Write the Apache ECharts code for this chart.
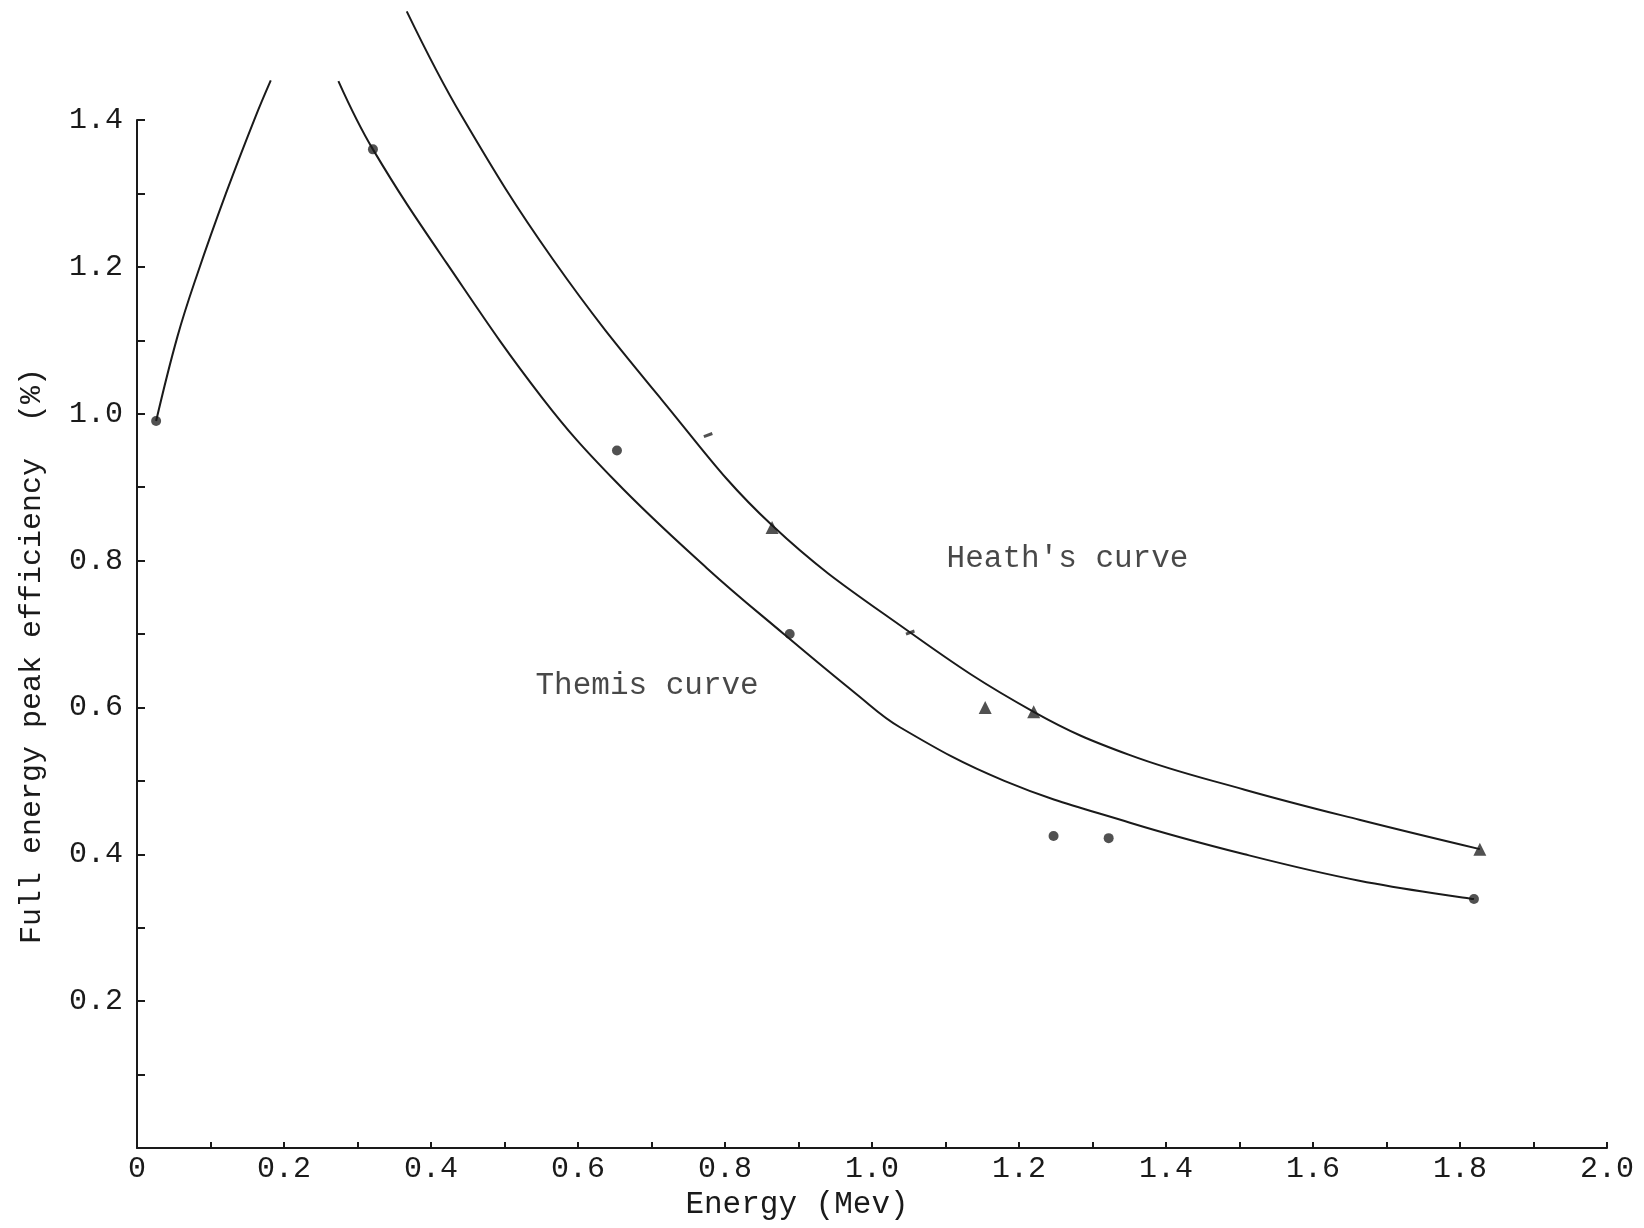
<!DOCTYPE html>
<html lang="en">
<head>
<meta charset="UTF-8">
<title>Full energy peak efficiency</title>
<style>
  html, body { margin: 0; padding: 0; background: #fff; }
  #chart { width: 1644px; height: 1228px; }
</style>
</head>
<body>
<div id="chart"></div>
<script src="https://cdn.jsdelivr.net/npm/echarts@6/dist/echarts.min.js"></script>
<script>
  // values: energy in MeV, efficiency in %
  var lowEnergy = [0.026, 0.055, 0.082, 0.121, 0.161, 0.182];
  var lowEff = [0.99, 1.105, 1.19, 1.30, 1.404, 1.454];

  var themisEnergy = [0.274, 0.321, 0.422, 0.551, 0.649, 0.775, 0.88, 0.979, 1.038, 1.18, 1.351, 1.507, 1.663, 1.819];
  var themisEff = [1.453, 1.36, 1.204, 1.022, 0.91, 0.79, 0.70, 0.618, 0.573, 0.50, 0.443, 0.40, 0.364, 0.339];

  var heathEnergy = [0.367, 0.442, 0.566, 0.714, 0.864, 1.052, 1.22, 1.351, 1.507, 1.663, 1.827];
  var heathEff = [1.548, 1.405, 1.21, 1.019, 0.848, 0.702, 0.594, 0.535, 0.488, 0.447, 0.407];

  // measured points
  var dotEnergy = [0.026, 0.321, 0.653, 0.888, 1.247, 1.322, 1.819];
  var dotEff = [0.99, 1.36, 0.950, 0.70, 0.425, 0.422, 0.339];

  var triEnergy = [0.442, 0.864, 1.154, 1.22, 1.827];
  var triEff = [1.408, 0.845, 0.600, 0.594, 0.407];

  var markEnergy = [0.777, 1.052];
  var markEff = [0.971, 0.702];

  var curveNames = ["Heath's curve", 'Themis curve'];
  var curveNameEnergy = [1.266, 0.694];
  var curveNameEff = [0.803, 0.629];

  function pairs(xs, ys) {
    var out = [];
    for (var i = 0; i < xs.length; i++) {
      out.push([xs[i], ys[i]]);
    }
    return out;
  }

  var font = '"Liberation Mono", "DejaVu Sans Mono", monospace';
  var ink = '#1a1a1a';

  var chart = echarts.init(document.getElementById('chart'));

  var option = {
    backgroundColor: '#fff',
    animation: false,
    grid: {
      left: 137,
      right: 37,
      top: 120,
      bottom: 80
    },
    xAxis: {
      type: 'value',
      min: 0,
      max: 2,
      interval: 0.1,
      name: 'Energy (Mev)',
      nameLocation: 'middle',
      nameGap: 40,
      nameTextStyle: {
        fontFamily: font,
        fontSize: 31,
        color: ink,
        padding: [0, 150, 0, 0]
      },
      axisLine: { lineStyle: { color: ink, width: 2 } },
      axisTick: { inside: true, length: 6, lineStyle: { color: ink, width: 2 } },
      splitLine: { show: false },
      axisLabel: {
        fontFamily: font,
        fontSize: 30,
        color: ink,
        margin: 6,
        formatter: function (v) {
          var t = Math.round(v * 10);
          if (t % 2 !== 0) return '';
          if (t === 0) return '0';
          return (t / 10).toFixed(1);
        }
      }
    },
    yAxis: {
      type: 'value',
      min: 0,
      max: 1.4,
      interval: 0.1,
      name: 'Full energy peak efficiency  (%)',
      nameLocation: 'middle',
      nameGap: 90,
      nameTextStyle: {
        fontFamily: font,
        fontSize: 30,
        color: ink,
        padding: [0, 44, 0, 0]
      },
      axisLine: { show: true, lineStyle: { color: ink, width: 2 } },
      axisTick: { show: true, inside: true, length: 8, lineStyle: { color: ink, width: 2 } },
      splitLine: { show: false },
      axisLabel: {
        fontFamily: font,
        fontSize: 30,
        color: ink,
        margin: 14,
        formatter: function (v) {
          var t = Math.round(v * 10);
          if (t === 0 || t % 2 !== 0) return '';
          return (t / 10).toFixed(1);
        }
      }
    },
    series: [
      {
        type: 'line',
        data: pairs(lowEnergy, lowEff),
        smooth: 0.4,
        clip: false,
        showSymbol: false,
        lineStyle: { color: ink, width: 2 }
      },
      {
        type: 'line',
        data: pairs(themisEnergy, themisEff),
        smooth: 0.4,
        clip: false,
        showSymbol: false,
        lineStyle: { color: ink, width: 2 }
      },
      {
        type: 'line',
        data: pairs(heathEnergy, heathEff),
        smooth: 0.4,
        clip: false,
        showSymbol: false,
        lineStyle: { color: ink, width: 2 }
      },
      {
        type: 'scatter',
        data: pairs(dotEnergy, dotEff),
        symbol: 'circle',
        symbolSize: 10,
        itemStyle: { color: '#262626' }
      },
      {
        type: 'scatter',
        data: pairs(triEnergy, triEff),
        symbol: 'triangle',
        symbolSize: 13,
        itemStyle: { color: '#262626' }
      },
      {
        type: 'scatter',
        data: pairs(markEnergy, markEff),
        symbol: 'rect',
        symbolSize: [9, 3],
        symbolRotate: 20,
        itemStyle: { color: '#262626' }
      },
      {
        type: 'scatter',
        symbolSize: 0,
        data: curveNames.map(function (n, i) {
          return { name: n, value: [curveNameEnergy[i], curveNameEff[i]] };
        }),
        label: {
          show: true,
          position: 'inside',
          formatter: '{b}',
          fontFamily: font,
          fontSize: 31,
          color: ink
        }
      }
    ]
  };

  chart.setOption(option);
</script>
</body>
</html>
